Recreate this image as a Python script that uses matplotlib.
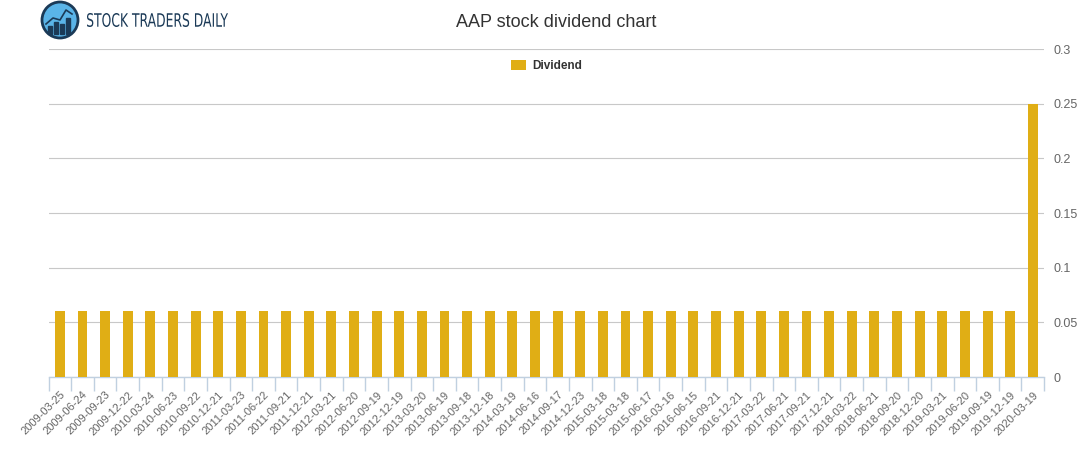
import numpy as np
import matplotlib.pyplot as plt
from matplotlib.patches import Circle, Rectangle, PathPatch
from matplotlib.textpath import TextPath
from matplotlib.font_manager import FontProperties
from matplotlib.transforms import Affine2D

dates = [
    "2009-03-25", "2009-06-24", "2009-09-23", "2009-12-22",
    "2010-03-24", "2010-06-23", "2010-09-22", "2010-12-21",
    "2011-03-23", "2011-06-22", "2011-09-21", "2011-12-21",
    "2012-03-21", "2012-06-20", "2012-09-19", "2012-12-19",
    "2013-03-20", "2013-06-19", "2013-09-18", "2013-12-18",
    "2014-03-19", "2014-06-16", "2014-09-17", "2014-12-23",
    "2015-03-18", "2015-03-18", "2015-06-17",
    "2016-03-16", "2016-06-15", "2016-09-21", "2016-12-21",
    "2017-03-22", "2017-06-21", "2017-09-21", "2017-12-21",
    "2018-03-22", "2018-06-21", "2018-09-20", "2018-12-20",
    "2019-03-21", "2019-06-20", "2019-09-19", "2019-12-19",
    "2020-03-19",
]
dividend = [0.06] * 43 + [0.25]

plt.rcParams['font.family'] = ['Liberation Sans', 'DejaVu Sans']

fig = plt.figure(figsize=(10.91, 4.5), dpi=100)
ax = fig.add_axes([0.0445, 0.162, 0.9125, 0.729])

x = np.arange(len(dates))
ax.bar(x, dividend, width=0.44, color="#E0AE15", label="Dividend", zorder=3)

ax.set_xlim(-0.5, len(dates) - 0.5)
ax.set_ylim(0, 0.3)
ax.set_yticks([0, 0.05, 0.1, 0.15, 0.2, 0.25, 0.3])
ax.set_yticklabels(["0", "0.05", "0.1", "0.15", "0.2", "0.25", "0.3"])
ax.yaxis.tick_right()
ax.tick_params(axis="y", length=0, pad=7, labelsize=9, labelcolor="#666666")
ax.grid(axis="y", color="#C8C8C8", linewidth=0.8, zorder=0)

ax.set_xticks(x)
ax.set_xticklabels(dates, rotation=45, ha="right", rotation_mode="anchor")
ax.tick_params(axis="x", which="major", length=0, pad=9, labelsize=8,
               labelcolor="#666666")
ax.set_xticks(np.arange(-0.5, len(dates)), minor=True)
ax.tick_params(axis="x", which="minor", length=10, color="#C0D0E0", width=1)

for s in ["top", "left", "right"]:
    ax.spines[s].set_visible(False)
ax.spines["bottom"].set_color("#C0D0E0")
ax.spines["bottom"].set_linewidth(1)

fig.text(0.5096, 0.949, "AAP stock dividend chart", ha="center", va="center",
         fontsize=13, color="#333333")

leg = ax.legend(loc="upper center", bbox_to_anchor=(0.5, 1.0), frameon=False,
                prop={"size": 8.5, "weight": "bold"}, handlelength=1.3,
                handleheight=1.0, handletextpad=0.5)
for t in leg.get_texts():
    t.set_color("#333333")

# logo
lax = fig.add_axes([0, 0.9, 0.25, 0.1])
lax.set_xlim(0, 272.75)
lax.set_ylim(45, 0)
lax.axis("off")
lax.add_patch(Circle((60, 20), 18, facecolor="#5AB4E8", edgecolor="#1B3A57",
                     linewidth=2))
for bx, bh in [(50, 8), (56, 12), (62, 10), (68, 16)]:
    lax.add_patch(Rectangle((bx - 2, 34 - bh), 4, bh, color="#1B3A57"))
lax.plot([46, 53, 60, 66, 72], [24, 18, 20, 10, 14], color="#1B3A57", lw=1.2)

tp = TextPath((0, 0), "STOCK TRADERS DAILY", size=20,
              prop=FontProperties(family="DejaVu Sans"))
bb = tp.get_extents()
tr = (Affine2D().translate(-bb.x0, -bb.y1)
      .scale(141 / bb.width, -14 / bb.height).translate(87, 13))
lax.add_patch(PathPatch(tr.transform_path(tp), facecolor="#1B3A57",
                        edgecolor="none"))

fig.savefig("out.png", dpi=100)
